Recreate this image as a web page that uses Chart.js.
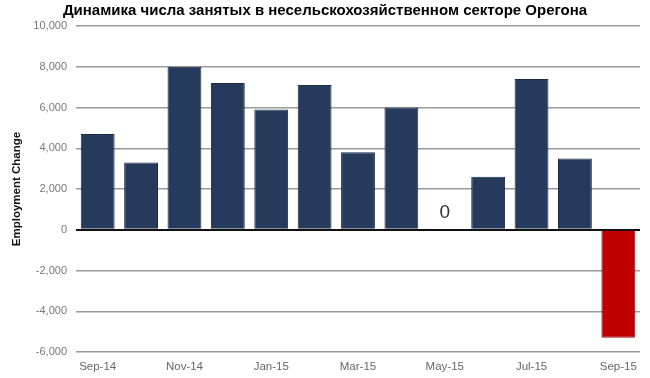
<!DOCTYPE html>
<html>
<head>
<meta charset="utf-8">
<script src="https://cdn.jsdelivr.net/npm/chart.js@4"></script>
<style>
  html, body { margin: 0; padding: 0; background: #fff; }
  #wrap { width: 650px; height: 378px; }
</style>
</head>
<body>
<div id="wrap"><canvas id="empChart" width="650" height="378"></canvas></div>
<script>
// Месяцы и изменение занятости
const months = ['Sep-14', 'Oct-14', 'Nov-14', 'Dec-14', 'Jan-15', 'Feb-15', 'Mar-15',
                'Apr-15', 'May-15', 'Jun-15', 'Jul-15', 'Aug-15', 'Sep-15'];
const changes = [4700, 3300, 8000, 7200, 5900, 7100, 3800, 6000, 0, 2600, 7400, 3500, -5300];
const yTicks = [-6000, -4000, -2000, 0, 2000, 4000, 6000, 8000, 10000];

const FONT = '"Liberation Sans", Arial, sans-serif';

// подпись "0" над нулевым столбцом
const zeroLabel = {
    id: 'zeroLabel',
    afterDatasetsDraw(chart) {
        const ctx = chart.ctx;
        const xs = chart.scales.x, ys = chart.scales.y;
        ctx.save();
        ctx.font = '19px ' + FONT;
        ctx.fillStyle = '#333';
        ctx.textAlign = 'center';
        ctx.textBaseline = 'alphabetic';
        changes.forEach((v, i) => {
            if (v === 0) ctx.fillText('0', xs.getPixelForValue(i), ys.getPixelForValue(0) - 12);
        });
        ctx.restore();
    }
};

new Chart(document.getElementById('empChart'), {
    type: 'bar',
    data: {
        labels: months,
        datasets: [{
            data: changes,
            backgroundColor: changes.map(v => v < 0 ? '#c00000' : '#263a5c'),
            borderColor: changes.map(v => v < 0 ? '#8a1010' : '#1c2c48'),
            borderWidth: 1,
            barPercentage: 0.78,
            categoryPercentage: 1.0
        }]
    },
    options: {
        responsive: false,
        animation: false,
        layout: { padding: { left: 10, right: 10, top: 0, bottom: 2 } },
        plugins: {
            legend: { display: false },
            tooltip: { enabled: false },
            title: {
                display: true,
                text: 'Динамика числа занятых в несельскохозяйственном секторе Орегона',
                color: '#000',
                font: { family: FONT, size: 15, weight: 'bold' },
                padding: { top: 2, bottom: 6 }
            }
        },
        scales: {
            x: {
                grid: { display: false },
                border: { display: false },
                afterFit: axis => { axis.height = 24; },
                ticks: {
                    color: '#666',
                    padding: 0,
                    font: { family: FONT, size: 11.5 },
                    maxRotation: 0,
                    autoSkip: false,
                    callback: (v, i) => i % 2 === 0 ? months[i] : ''
                }
            },
            y: {
                min: yTicks[0],
                max: yTicks[yTicks.length - 1],
                afterBuildTicks: axis => { axis.ticks = yTicks.map(v => ({ value: v })); },
                afterFit: axis => { axis.width = 66; },
                border: { display: false },
                grid: {
                    drawTicks: false,
                    lineWidth: ctx => ctx.tick && ctx.tick.value === 0 ? 2 : 1.5,
                    color: ctx => ctx.tick && ctx.tick.value === 0 ? '#111' : '#9a9a9a'
                },
                ticks: {
                    color: '#777',
                    padding: 9,
                    font: { family: FONT, size: 11 },
                    callback: v => v.toLocaleString('en-US')
                },
                title: {
                    display: true,
                    text: 'Employment Change',
                    color: '#111',
                    font: { family: FONT, size: 11.5, weight: 'bold' },
                    padding: { top: 0, bottom: 0 }
                }
            }
        }
    },
    plugins: [zeroLabel]
});
</script>
</body>
</html>
